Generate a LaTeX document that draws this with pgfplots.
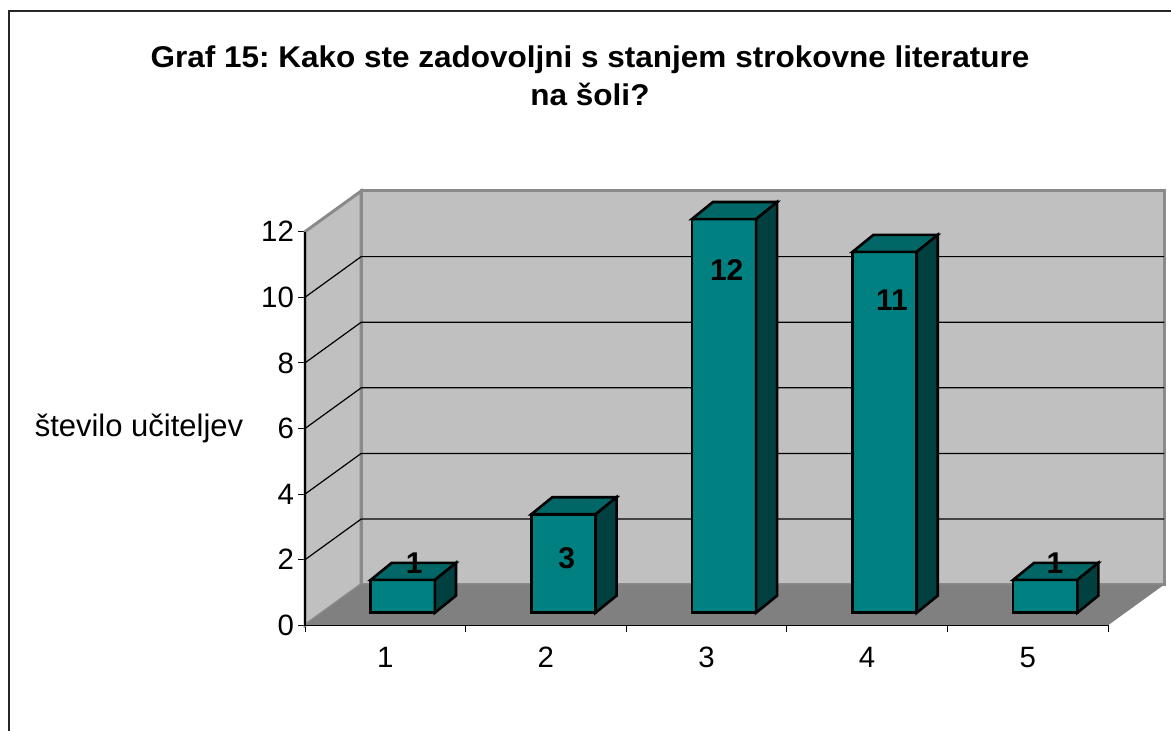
\documentclass[border=0pt]{standalone}
\usepackage{fontspec}
\setmainfont{Liberation Sans}
\usepackage{pgfplots}
\pgfplotsset{compat=1.18}
\frenchspacing

\definecolor{wall}{HTML}{C0C0C0}
\definecolor{floorc}{HTML}{808080}
\definecolor{walledge}{HTML}{8A8A8A}
\definecolor{barfront}{HTML}{008080}
\definecolor{bartop}{HTML}{006666}
\definecolor{barside}{HTML}{004040}

\tikzset{
  face/.style={draw=black, line width=1.3pt, line join=miter},
}

% one 3-d column: #1 category, #2 value, #3/#4 label position
\newcommand\threedbar[4]{%
  \pgfmathsetmacro\xa{#1-0.2+0.109}%
  \pgfmathsetmacro\xb{#1+0.2+0.109}%
  \pgfmathsetmacro\xc{\xa+0.131}%
  \pgfmathsetmacro\xd{\xb+0.131}%
  \pgfmathsetmacro\ya{0.384}%
  \pgfmathsetmacro\yb{#2+0.384}%
  \pgfmathsetmacro\yc{0.384+0.52}%
  \pgfmathsetmacro\yd{#2+0.384+0.52}%
  \edef\temp{%
    \noexpand\addplot[face, fill=barfront] coordinates {(\xa,\ya) (\xb,\ya) (\xb,\yb) (\xa,\yb)} -- cycle;
    \noexpand\addplot[face, fill=bartop] coordinates {(\xa,\yb) (\xb,\yb) (\xd,\yd) (\xc,\yd)} -- cycle;
    \noexpand\addplot[face, fill=barside] coordinates {(\xb,\ya) (\xd,\yc) (\xd,\yd) (\xb,\yb)} -- cycle;
    \noexpand\node[font=\noexpand\fontsize{15}{17}\noexpand\selectfont\noexpand\bfseries] at (axis cs:#3,#4) {#2};
  }\temp
}

\begin{document}
\begin{tikzpicture}
\useasboundingbox (0,0) rectangle (585.5pt,-365.5pt);
\draw[line width=1pt, black!85] (4.5pt,-400pt) -- (4.5pt,-5.75pt) -- (600pt,-5.75pt);

\node[align=center, xscale=1.05, font=\fontsize{15}{19}\selectfont\bfseries] at (295pt,-38pt)
  {Graf 15: Kako ste zadovoljni s stanjem strokovne literature\\na šoli?};
\node[font=\fontsize{15.5}{17}\selectfont] at (69.5pt,-214pt) {število učiteljev};

\begin{axis}[
  at={(152.5pt,-312.65pt)}, anchor=south west,
  scale only axis, width=429.6pt, height=217.15pt,
  xmin=0.5, xmax=5.85, ymin=0, ymax=13.24,
  clip=false,
  axis x line*=bottom, axis y line*=left,
  axis line style={draw=none},
  xtick={1,...,5}, minor xtick={0.5,1.5,...,5.5},
  ytick={0,2,...,12},
  tick align=outside,
  major tick length=3.5pt, minor tick length=3.5pt,
  tick style={black, line width=0.5pt},
  major x tick style={draw=none},
  tick label style={font=\fontsize{14.7}{16}\selectfont},
  xticklabel style={yshift=-3.75pt},
  yticklabel style={xshift=1.5pt},
  /pgf/number format/assume math mode=true,
]
% walls and floor
\addplot[fill=wall, draw=walledge, line width=1.5pt] coordinates {(0.5,0) (0.85,1.24) (0.85,13.24) (0.5,12)} -- cycle;
\addplot[fill=wall, draw=walledge, line width=1.5pt] coordinates {(0.85,1.24) (5.85,1.24) (5.85,13.24) (0.85,13.24)} -- cycle;
\addplot[fill=floorc, draw=none] coordinates {(0.5,0) (5.5,0) (5.85,1.24) (0.85,1.24)} -- cycle;
% gridlines
\addplot[black, line width=0.6pt, unbounded coords=jump] coordinates {
  (0.5,2) (0.85,3.24) (5.85,3.24) (nan,nan)
  (0.5,4) (0.85,5.24) (5.85,5.24) (nan,nan)
  (0.5,6) (0.85,7.24) (5.85,7.24) (nan,nan)
  (0.5,8) (0.85,9.24) (5.85,9.24) (nan,nan)
  (0.5,10) (0.85,11.24) (5.85,11.24)
};
% axis lines
\addplot[black, line width=0.6pt] coordinates {(0.5,12) (0.5,0) (5.5,0)};
% columns
\threedbar{1}{1}{1.18}{1.9}
\threedbar{2}{3}{2.13}{2.05}
\threedbar{3}{12}{3.126}{10.83}
\threedbar{4}{11}{4.155}{9.92}
\threedbar{5}{1}{5.17}{1.9}
\end{axis}
\end{tikzpicture}
\end{document}
